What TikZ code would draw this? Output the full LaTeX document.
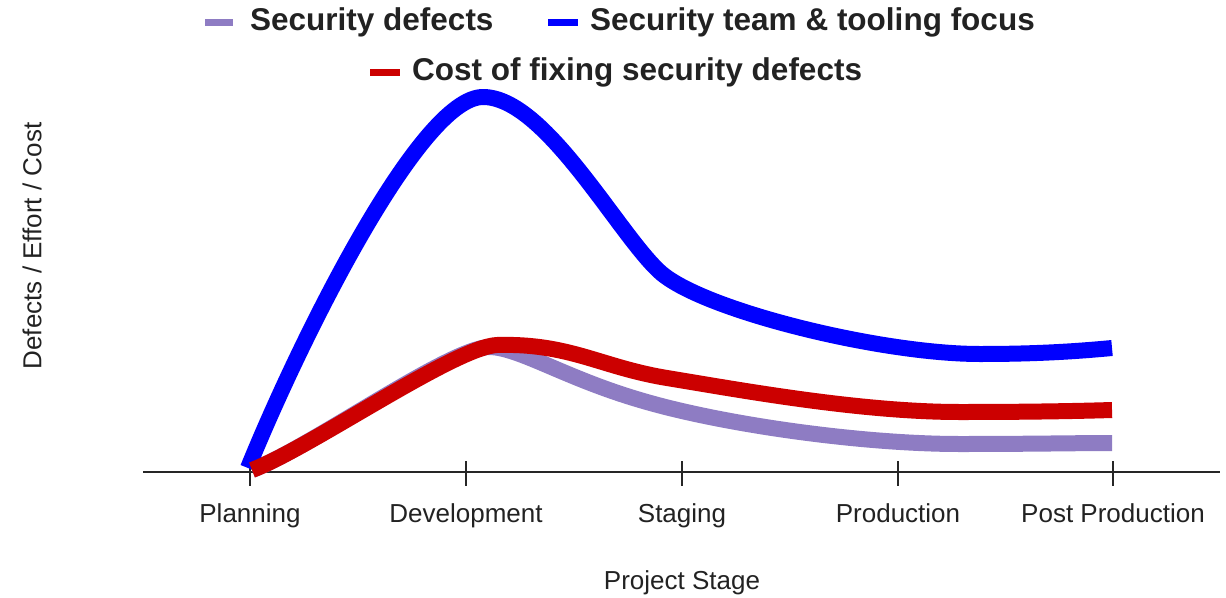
\documentclass[tikz,border=0pt]{standalone}
\usepackage{fontspec}
\setmainfont{Liberation Sans}
\definecolor{cblue}{HTML}{0000FF}
\definecolor{cred}{HTML}{CC0000}
\definecolor{cpurple}{HTML}{8E7CC3}
\definecolor{ctext}{HTML}{222222}
\tikzset{
  legtext/.style={anchor=west, inner sep=0pt, text=ctext, font=\fontsize{31.5}{36}\selectfont\bfseries},
  legdash/.style={line width=7pt},
  ticklabel/.style={anchor=base, inner sep=0pt, text=ctext, font=\fontsize{26}{30}\selectfont},
  curve/.style={line width=16pt, line cap=butt, line join=round},
  axisline/.style={line width=2pt, black!85},
}
\begin{document}
\begin{tikzpicture}[x=1pt,y=-1pt]
\useasboundingbox (0,0) rectangle (1226,597);
% axis
\draw[axisline] (143,472) -- (1220,472);
\foreach \x/\n/\t in {250/pl/Planning,466/dev/Development,682/stg/Staging,898/prod/Production,1113/post/Post Production}{
  \draw[axisline] (\x,461) -- (\x,486);
  \node[ticklabel] (\n) at (\x,522) {\t};
}
\node[ticklabel] (xlab) at (682,589) {Project Stage};
\node[ticklabel, anchor=center, rotate=90] (ylab) at (32,246) {Defects / Effort / Cost};
% curves
\draw[curve, cpurple] (252,470) .. controls (310,448) and (450,347) .. (490,347)
  .. controls (520,348) and (565,378) .. (640,400)
  .. controls (720,424) and (860,444) .. (960,444)
  .. controls (1030,444) and (1080,443) .. (1112,443);
\draw[curve, cblue] (248,468) .. controls (300,340) and (420,97) .. (483,97)
  .. controls (545,97) and (618,234) .. (660,272)
  .. controls (702,310) and (880,354) .. (980,354)
  .. controls (1040,354) and (1080,351) .. (1112,348);
\draw[curve, cred] (252,470) .. controls (310,448) and (455,347) .. (497,345)
  .. controls (570,343) and (600,367) .. (667,378)
  .. controls (740,390) and (860,412) .. (960,412)
  .. controls (1030,412) and (1080,411) .. (1112,410);
% legend
\draw[legdash, cpurple] (205,22) -- (233,22);
\node[legtext] (l1) at (250,22) {Security defects};
\draw[legdash, cblue] (548,22) -- (578,22);
\node[legtext] (l2) at (590,22) {Security team \& tooling focus};
\draw[legdash, cred] (370,72) -- (400,72);
\node[legtext] (l3) at (412,72) {Cost of fixing security defects};
\end{tikzpicture}
\end{document}
